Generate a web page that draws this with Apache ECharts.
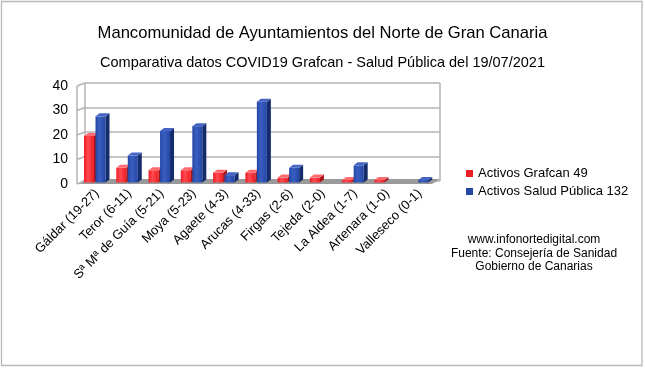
<!DOCTYPE html>
<html>
<head>
<meta charset="utf-8">
<script src="https://cdn.jsdelivr.net/npm/echarts@6/dist/echarts.min.js"></script>
<style>html,body{margin:0;padding:0;background:#fff}#c{width:645px;height:369px}</style>
</head>
<body>
<div id="c"></div>
<script>
const categories = ['Gáldar (19-27)','Teror (6-11)','Sª Mª de Guía (5-21)','Moya (5-23)','Agaete (4-3)','Arucas (4-33)','Firgas (2-6)','Tejeda (2-0)','La Aldea (1-7)','Artenara (1-0)','Valleseco (0-1)'];
const grafcan = [19,6,5,5,4,4,2,2,1,1,0];
const saludPublica = [27,11,21,23,3,33,6,0,7,0,1];
const seriesNames = ['Activos Grafcan 49','Activos Salud Pública 132'];
const yTicks = [0,10,20,30,40];
const titleText = 'Mancomunidad de Ayuntamientos del Norte de Gran Canaria';
const subtitleText = 'Comparativa datos COVID19 Grafcan - Salud Pública del 19/07/2021';
const footLines = ['www.infonortedigital.com','Fuente: Consejería de Sanidad','Gobierno de Canarias'];

// layout
const BACK = {x0:85, y0:83, w:355, h:98};
const FRONT = {dx:-8, dy:3};
const DEPTH = {dx:4, dy:3};
const BAR_W = 10;
const FONT = '"Liberation Sans", Arial, sans-serif';
const WALL = '#b3b3b3';

const palette = [
  {front:'#ee1c24', light:'#ff4a50', side:'#a8141a', top:'#ff6a6e'},
  {front:'#2447a6', light:'#3a5ec0', side:'#142b6e', top:'#4565c4'}
];
const barOffsets = [3, 14.5];

function makeRender(si){
  const col = palette[si];
  return function(params, api){
    const cat = api.value(0), v = api.value(1);
    if (!v) return;
    const band = api.size([1,0])[0];
    const base = api.coord([cat, 0]);
    const top = api.coord([cat, v]);
    const x0 = base[0] - band/2 + barOffsets[si];
    const x1 = x0 + BAR_W;
    const yb = base[1], yt = top[1];
    const dx = DEPTH.dx, dy = DEPTH.dy;
    return {type:'group', children:[
      {type:'rect', shape:{x:x0, y:yt, width:BAR_W, height:yb-yt},
       style:{fill:new echarts.graphic.LinearGradient(0,0,1,0,[{offset:0,color:col.front},{offset:0.4,color:col.light},{offset:1,color:col.front}])}},
      {type:'polygon', shape:{points:[[x1,yt],[x1+dx,yt-dy],[x1+dx,yb-dy],[x1,yb]]}, style:{fill:col.side}},
      {type:'polygon', shape:{points:[[x0,yt],[x0+dx,yt-dy],[x1+dx,yt-dy],[x1,yt]]}, style:{fill:col.top}}
    ]};
  };
}

const chart = echarts.init(document.getElementById('c'), null, {renderer:'canvas'});

const wallEls = [];
const by1 = BACK.y0 + BACK.h;
wallEls.push({type:'polygon', z:1, shape:{points:[[BACK.x0,by1-2],[BACK.x0+BACK.w,by1-2],[BACK.x0+BACK.w+FRONT.dx,by1+FRONT.dy],[BACK.x0+FRONT.dx,by1+FRONT.dy]]}, style:{fill:'#9a9a9a'}});
wallEls.push({type:'line', z:1, shape:{x1:BACK.x0,y1:BACK.y0,x2:BACK.x0,y2:by1}, style:{stroke:WALL,lineWidth:1.5}});
wallEls.push({type:'line', z:1, shape:{x1:BACK.x0+FRONT.dx,y1:BACK.y0+FRONT.dy,x2:BACK.x0+FRONT.dx,y2:by1+FRONT.dy}, style:{stroke:WALL,lineWidth:1.5}});
wallEls.push({type:'line', z:1, shape:{x1:BACK.x0+BACK.w,y1:BACK.y0,x2:BACK.x0+BACK.w,y2:by1}, style:{stroke:WALL,lineWidth:1.5}});
yTicks.forEach(function(t){
  const y = by1 - BACK.h * t / 40;
  wallEls.push({type:'line', z:1, shape:{x1:BACK.x0,y1:y,x2:BACK.x0+FRONT.dx,y2:y+FRONT.dy}, style:{stroke:WALL,lineWidth:1.5}});
});
wallEls.push({type:'rect', z:0, shape:{x:1.5,y:1.5,width:640.5,height:364}, style:{fill:null, stroke:'#b8b8b8', lineWidth:1.3}});
footLines.forEach(function(t,i){
  wallEls.push({type:'text', z:5, x:534, y:239.5 + i*13.8, style:{text:t, font:'12px '+FONT, fill:'#000', textAlign:'center', textVerticalAlign:'middle'}});
});

const option = {
  animation:false,
  backgroundColor:'#fff',
  title:[
    {text:titleText, left:'center', top:20, textStyle:{fontFamily:FONT, fontSize:16.6, fontWeight:'normal', color:'#000'}},
    {text:subtitleText, left:'center', top:50, textStyle:{fontFamily:FONT, fontSize:14.5, fontWeight:'normal', color:'#000'}}
  ],
  legend:{
    orient:'vertical', left:461, top:162, itemWidth:7, itemHeight:7, itemGap:5, icon:'rect',
    textStyle:{fontFamily:FONT, fontSize:13, color:'#000'},
    data:seriesNames
  },
  grid:[
    {left:81, top:84.5, width:355, height:98},
    {left:BACK.x0, top:BACK.y0, width:BACK.w, height:BACK.h},
    {left:BACK.x0+FRONT.dx, top:BACK.y0+FRONT.dy, width:BACK.w, height:BACK.h}
  ],
  xAxis:[
    {type:'category', gridIndex:0, data:categories, axisLine:{show:false}, axisTick:{show:false},
     axisLabel:{rotate:45, interval:0, margin:9, fontFamily:FONT, fontSize:13, color:'#000'}},
    {type:'category', gridIndex:1, data:categories, show:false},
    {type:'category', gridIndex:2, data:categories, show:false}
  ],
  yAxis:[
    {type:'value', gridIndex:0, min:0, max:40, interval:10, show:false},
    {type:'value', gridIndex:1, min:0, max:40, interval:10, axisLabel:{show:false}, axisLine:{show:false}, axisTick:{show:false},
     splitLine:{show:true, lineStyle:{color:WALL, width:1.5}}},
    {type:'value', gridIndex:2, min:0, max:40, interval:10, axisLine:{show:false}, axisTick:{show:false}, splitLine:{show:false},
     axisLabel:{margin:9, fontFamily:FONT, fontSize:14, color:'#000'}}
  ],
  graphic:wallEls,
  series:[
    {name:seriesNames[0], type:'custom', xAxisIndex:0, yAxisIndex:0, z:3, renderItem:makeRender(0),
     itemStyle:{color:'#ee1c24'}, encode:{x:0,y:1}, data:grafcan.map(function(v,i){return [i,v];})},
    {name:seriesNames[1], type:'custom', xAxisIndex:0, yAxisIndex:0, z:3, renderItem:makeRender(1),
     itemStyle:{color:'#2447a6'}, encode:{x:0,y:1}, data:saludPublica.map(function(v,i){return [i,v];})}
  ]
};
chart.setOption(option);
</script>
</body>
</html>
